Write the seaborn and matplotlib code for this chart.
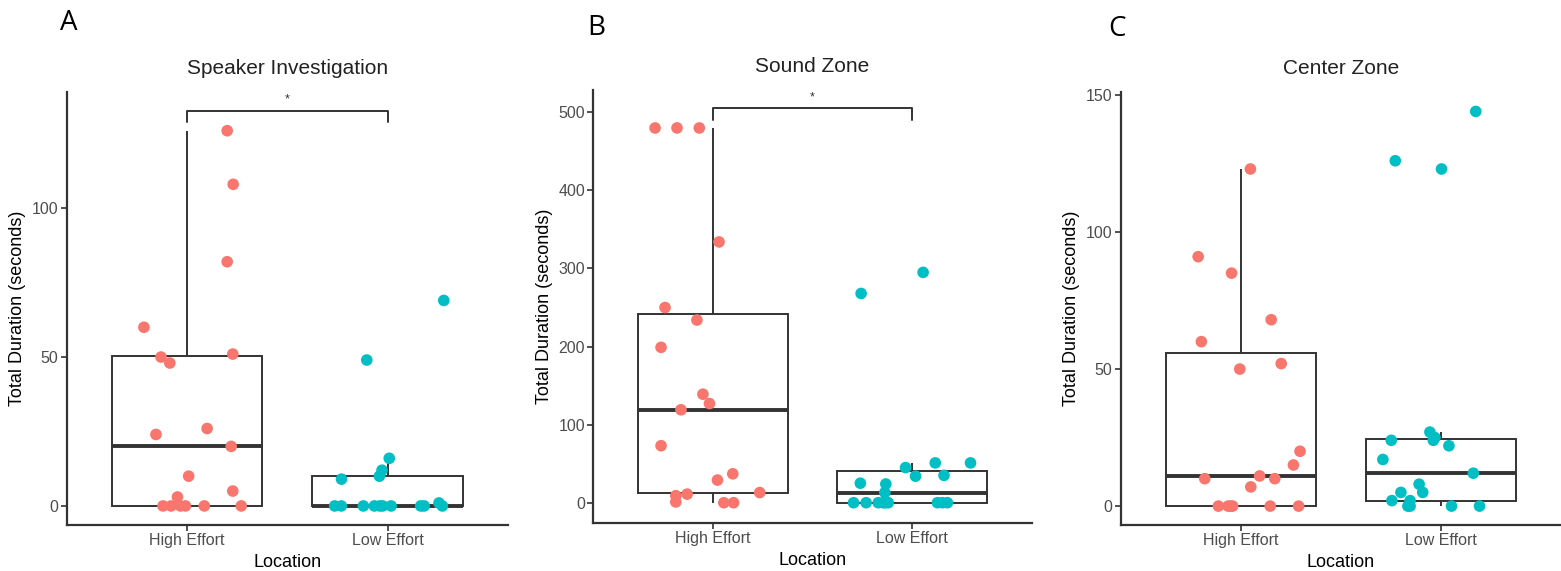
import numpy as np
import pandas as pd
import matplotlib
matplotlib.use("Agg")
import matplotlib.pyplot as plt
import seaborn as sns

# groups on the x axis
locations = ["High Effort", "Low Effort"]
colors = {"High Effort": "#F8766D", "Low Effort": "#00BFC4"}

# Panel A - Speaker Investigation (jitter offsets as drawn)
spk_high = [126, 108, 82, 60, 50, 48, 51, 24, 26, 20, 10, 3, 5, 0, 0, 0, 0, 0, 0]
spk_high_jit = [0.20, 0.23, 0.20, -0.215, -0.13, -0.086, 0.228, -0.155, 0.10, 0.22, 0.008, -0.048, 0.228,
                -0.12, -0.08, -0.033, -0.008, 0.086, 0.27]
spk_low = [69, 49, 16, 12, 10, 9, 1, 0, 0, 0, 0, 0, 0, 0, 0, 0, 0]
spk_low_jit = [0.28, -0.104, 0.008, -0.028, -0.041, -0.23, 0.256,
               -0.264, -0.231, -0.121, -0.066, -0.025, 0.017, 0.165, 0.182, 0.273, -0.04]

# Panel B - Sound Zone
snd_high = [480, 480, 480, 334, 250, 234, 199, 139, 127, 119, 73, 37, 29, 13, 11, 9, 1, 0, 0]
snd_high_jit = [-0.29, -0.18, -0.068, 0.031, -0.24, -0.08, -0.26, -0.05, -0.017, -0.16, -0.26, 0.10, 0.023,
                0.235, -0.129, -0.186, -0.186, 0.055, 0.104]
snd_low = [295, 268, 51, 51, 45, 35, 34, 25, 24, 13, 0, 0, 0, 0, 0, 0, 0, 0, 0]
snd_low_jit = [0.055, -0.256, 0.116, 0.293, -0.033, 0.16, 0.017, -0.26, -0.132, -0.137,
               -0.294, -0.231, -0.17, -0.145, -0.12, 0.127, 0.152, 0.177, -0.135]

# Panel C - Center Zone
ctr_high = [123, 91, 85, 68, 60, 50, 52, 20, 15, 10, 11, 10, 7, 0, 0, 0, 0, 0, 0]
ctr_high_jit = [0.048, -0.213, -0.046, 0.152, -0.197, -0.005, 0.202, 0.296, 0.263, -0.18, 0.094, 0.17, 0.05,
                -0.112, -0.063, -0.041, 0.147, 0.289, -0.05]
ctr_low = [144, 126, 123, 27, 25, 24, 24, 22, 17, 12, 8, 5, 5, 2, 2, 0, 0, 0, 0]
ctr_low_jit = [0.174, -0.228, 0.003, -0.055, -0.03, -0.038, -0.248, 0.04, -0.29, 0.162, -0.109, -0.091, -0.2,
               -0.245, -0.154, -0.165, -0.154, 0.053, 0.193]

titles = ["Speaker Investigation", "Sound Zone", "Center Zone"]
letters = ["A", "B", "C"]
yticks = [[0, 50, 100], [0, 100, 200, 300, 400, 500], [0, 50, 100, 150]]
ylims = [(-6.4, 139.1), (-25.6, 528.6), (-6.9, 151.2)]
# significance brackets: (top, leg bottom) or None
brackets = [(132.7, 128.8), (505, 490), None]

panels = [
    (spk_high, spk_high_jit, spk_low, spk_low_jit),
    (snd_high, snd_high_jit, snd_low, snd_low_jit),
    (ctr_high, ctr_high_jit, ctr_low, ctr_low_jit),
]

sns.set_style("ticks")
plt.rcParams["font.family"] = ["Liberation Sans", "DejaVu Sans"]

W, H = 1561, 571
fig = plt.figure(figsize=(W / 100, H / 100), dpi=100)
boxes = [(66.7, 508, 91.7, 525), (593.3, 1031.7, 90, 522.7), (1120.7, 1561, 91.7, 525)]
letter_pos = [(69, 23), (596, 28), (1117, 29)]

dark = "#333333"
for i, (hi, hij, lo, loj) in enumerate(panels):
    l, r, t, b = boxes[i]
    ax = fig.add_axes([l / W, 1 - b / H, (r - l) / W, (b - t) / H])

    df = pd.DataFrame({
        "Location": ["High Effort"] * len(hi) + ["Low Effort"] * len(lo),
        "Duration": hi + lo,
        "jitter": hij + loj,
    })
    df["xpos"] = df["Location"].map({loc: k for k, loc in enumerate(locations)}) + df["jitter"]

    sns.boxplot(data=df, x="Location", y="Duration", order=locations, ax=ax,
                showfliers=False, showcaps=False, width=0.75, color="white",
                linecolor=dark, linewidth=1.4,
                medianprops={"linewidth": 2.8, "color": dark})
    sns.scatterplot(data=df, x="xpos", y="Duration", hue="Location", palette=colors,
                    ax=ax, s=70, edgecolor="none", legend=False, zorder=3)

    if brackets[i] is not None:
        top, leg = brackets[i]
        ax.plot([0, 0, 1, 1], [leg, top, top, leg], color=dark, lw=1.4, clip_on=False)
        ax.text(0.5, top + (ylims[i][1] - ylims[i][0]) * 0.012, "*", ha="center", va="bottom",
                fontsize=9, color=dark)

    ax.set_xlim(-0.6, 1.6)
    ax.set_ylim(*ylims[i])
    ax.set_yticks(yticks[i])
    ax.set_xticks([0, 1])
    ax.set_xticklabels(locations)
    ax.set_xlabel("Location", fontsize=13, color="black", labelpad=4)
    ax.set_ylabel("Total Duration (seconds)", fontsize=13, color="black", labelpad=4)
    ax.tick_params(axis="both", labelsize=11.5, labelcolor="#4D4D4D", color=dark,
                   length=4, width=1.2, pad=2)
    for side in ["left", "bottom"]:
        ax.spines[side].set_linewidth(1.6)
        ax.spines[side].set_color(dark)
    sns.despine(ax=ax)
    ax.set_title(titles[i], fontsize=15, color="#222222", pad=13)

    lx, ly = letter_pos[i]
    fig.text(lx / W, 1 - ly / H, letters[i], fontsize=20, ha="center", va="center",
             color="black", family=["Open Sans", "DejaVu Sans"])

fig.savefig("out.png", dpi=100)
